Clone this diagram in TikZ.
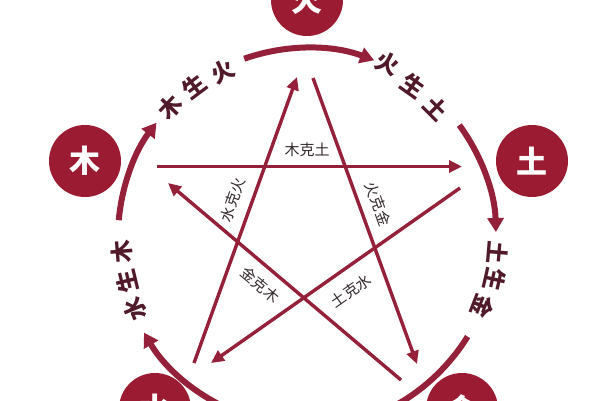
\documentclass[tikz,border=0pt]{standalone}
\usepackage{fontspec}
\newfontfamily\cjk{Noto Sans CJK SC}
\usetikzlibrary{arrows.meta,calc}
\definecolor{wxred}{RGB}{155,27,50}
\definecolor{wxline}{RGB}{148,32,58}
\definecolor{wxtext}{RGB}{80,26,42}
\definecolor{wxgray}{RGB}{50,40,45}
\begin{document}
\begin{tikzpicture}[x=1pt,y=1pt,
  element/.style={circle,fill=wxred,minimum size=72pt,inner sep=0pt,text=white,font=\cjk\bfseries\fontsize{31}{31}\selectfont},
  ring/.style={wxline,line width=6pt,-{Triangle[length=14pt,width=16pt]}},
  ke/.style={wxline,line width=3.4pt,-{Triangle[length=13pt,width=12pt]}},
  sheng/.style={text=wxtext,font=\cjk\bfseries\fontsize{23}{23}\selectfont,inner sep=0pt},
  kelabel/.style={text=wxgray,font=\cjk\fontsize{15}{15}\selectfont,inner sep=0pt},
]
\useasboundingbox (0,0) rectangle (600,-400);
\clip (0,0) rectangle (600,-400);
\fill[white] (0,0) rectangle (600,-400);
\coordinate (C) at (307,-237);
% ring arcs (sheng cycle)
\coordinate (a1) at ($(C)+(109.4:189)$);
\coordinate (a2) at ($(C)+(36.3:189)$);
\coordinate (a3) at ($(C)+(-31.8:189)$);
\coordinate (a4) at ($(C)+(-110:189)$);
\coordinate (a5) at ($(C)+(174.9:189)$);
\draw[ring] (a1) arc[start angle=109.4,end angle=69.2,radius=189];
\draw[ring] (a2) arc[start angle=36.3,end angle=1.5,radius=189];
\draw[ring] (a3) arc[start angle=-31.8,end angle=-75,radius=189];
\draw[ring] (a4) arc[start angle=-110,end angle=-149.6,radius=189];
\draw[ring] (a5) arc[start angle=174.9,end angle=142.8,radius=189];
% sheng labels
\node[sheng,rotate=46.5] (s1a) at (170,-107) {木};
\node[sheng,rotate=36.9] (s1b) at (194,-86) {生};
\node[sheng,rotate=27] (s1c) at (223,-72) {火};
\node[sheng,rotate=-25] (s2a) at (388,-64) {火};
\node[sheng,rotate=-35.2] (s2b) at (413,-86) {生};
\node[sheng,rotate=-45] (s2c) at (436,-108) {土};
\node[sheng,rotate=-94.8] (s3a) at (498,-253) {土};
\node[sheng,rotate=-102.9] (s3b) at (495,-280) {生};
\node[sheng,rotate=-111.2] (s3c) at (483,-306) {金};
\node[sheng,rotate=112.4] (s4a) at (135,-309) {水};
\node[sheng,rotate=103.4] (s4b) at (127,-281) {生};
\node[sheng,rotate=94.6] (s4c) at (122,-252) {木};
% ke lines (pentagram)
\coordinate (k1s) at (157,-166.5); \coordinate (k1e) at (462,-166.5);
\coordinate (k2s) at (313,-78);    \coordinate (k2e) at (417,-364);
\coordinate (k3s) at (194,-363);   \coordinate (k3e) at (297,-77);
\coordinate (k4s) at (401,-380);   \coordinate (k4e) at (168,-183);
\coordinate (k5s) at (460,-188);   \coordinate (k5e) at (211,-363);
\draw[ke] (k1s) -- (k1e);
\draw[ke] (k2s) -- (k2e);
\draw[ke] (k3s) -- (k3e);
\draw[ke] (k4s) -- (k4e);
\draw[ke] (k5s) -- (k5e);
% ke labels
\node[kelabel] (l1) at (307,-150) {木克土};
\node[kelabel,rotate=-70.1] (l2) at (378,-204) {火克金};
\node[kelabel,rotate=70.2] (l3) at (233,-200) {水克火};
\node[kelabel,rotate=-40.2] (l4) at (260,-285) {金克木};
\node[kelabel,rotate=35.1] (l5) at (351,-291) {土克水};
% element circles
\node[element] (huo) at (307,0) {火};
\node[element] (mu) at (85,-161) {木};
\node[element] (tu) at (532,-161) {土};
\node[element] (shui) at (155,-409) {水};
\node[element] (jin) at (462,-409) {金};
\end{tikzpicture}
\end{document}
